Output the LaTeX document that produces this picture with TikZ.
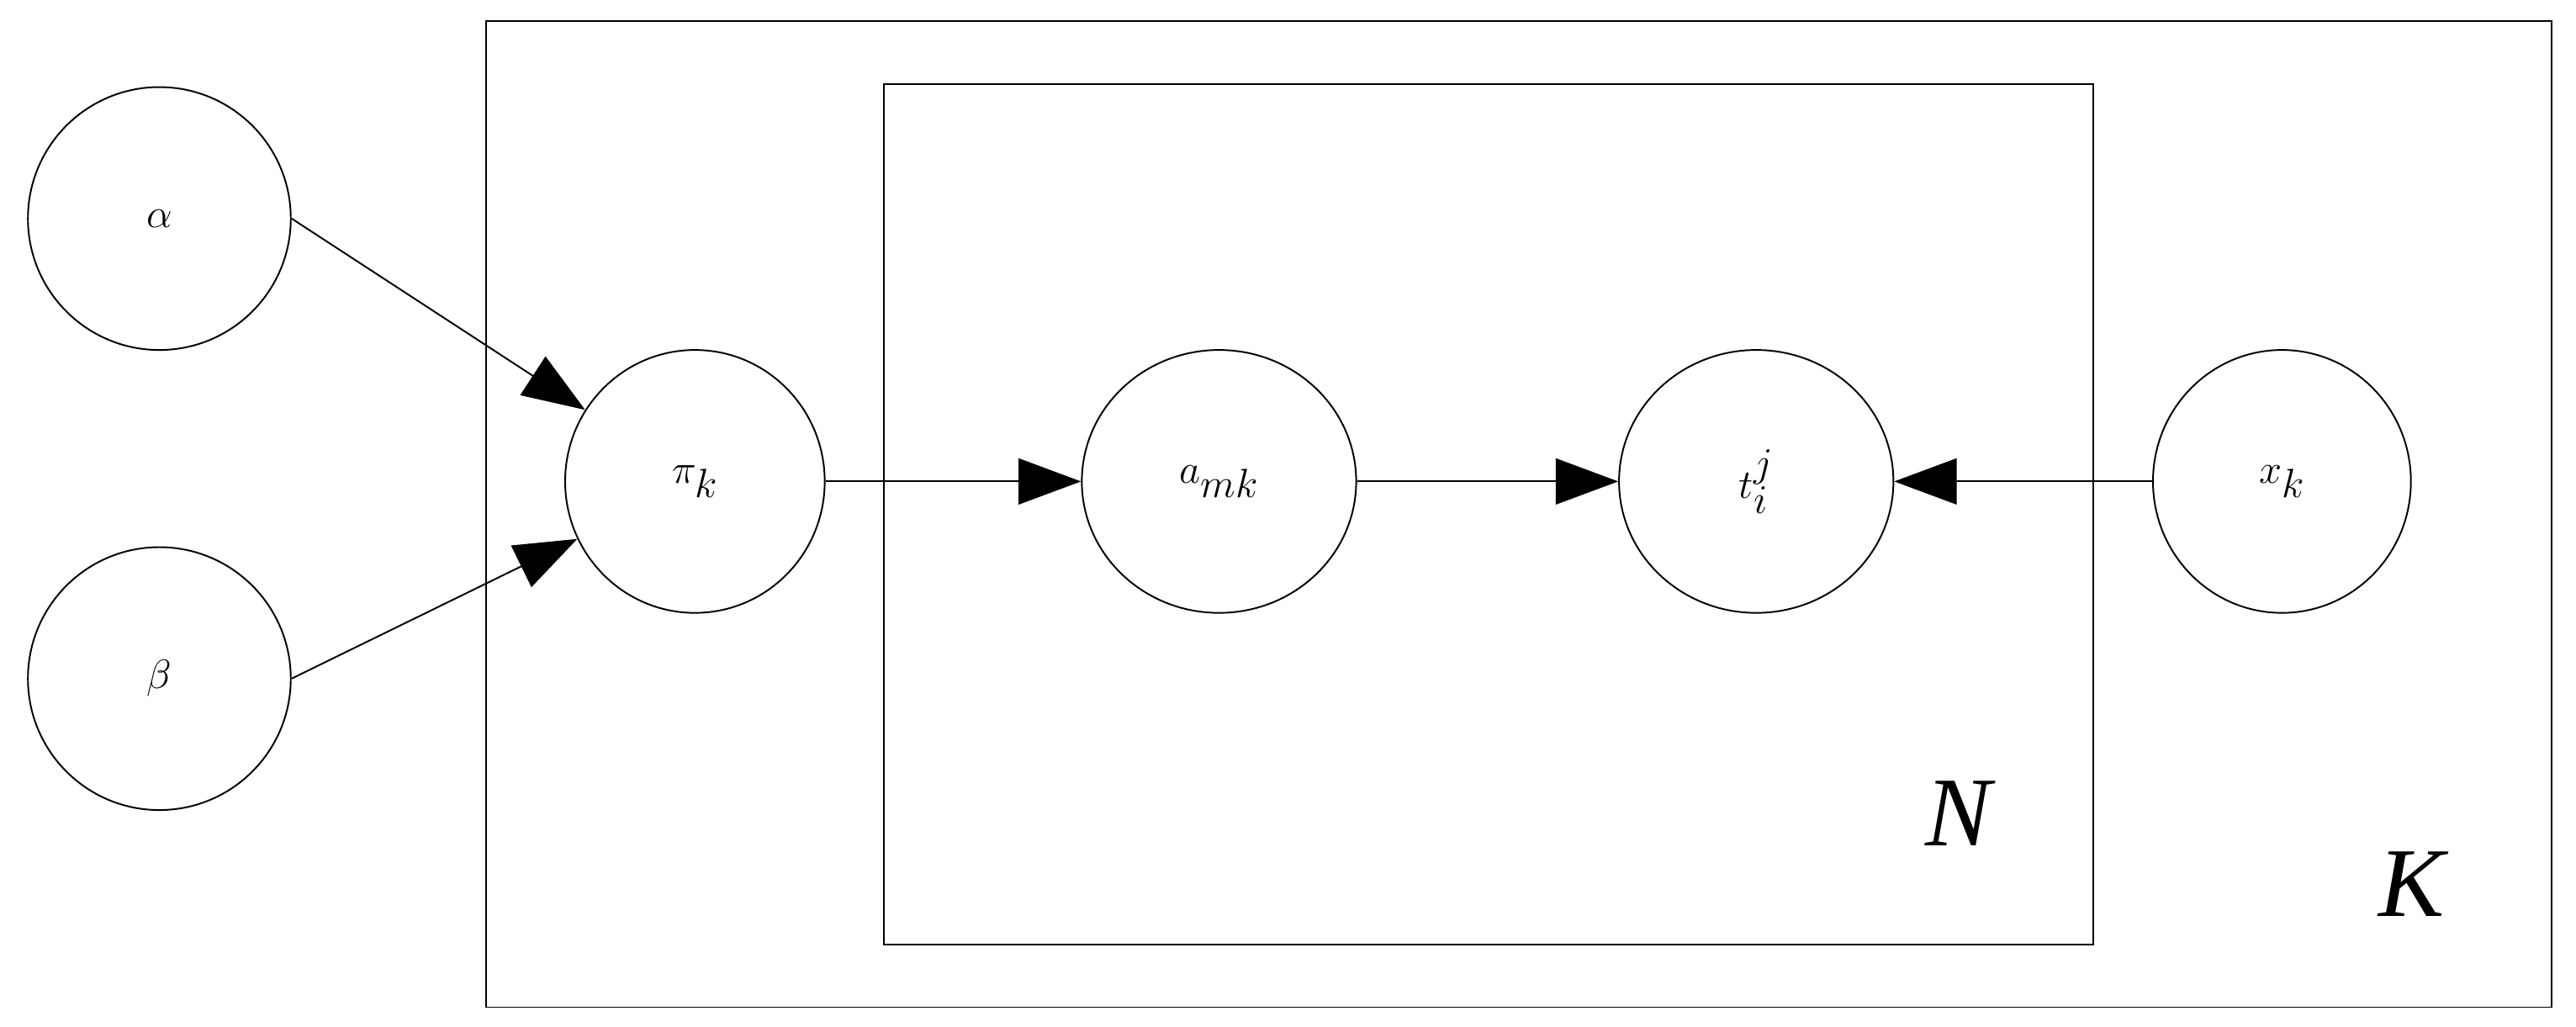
\documentclass[tikz,border=0pt]{standalone}
\usepackage{fontspec}
\setmainfont{Liberation Serif}
\usetikzlibrary{arrows.meta,shapes.geometric}
\begin{document}
\begin{tikzpicture}[x=1pt,y=-1pt,
  var/.style={draw,line width=1pt,ellipse,minimum width=#1,minimum height=160pt,inner sep=0pt,font=\fontsize{60}{66}\selectfont},
  var/.default=160pt,
  plate/.style={draw,line width=1pt},
  arr/.style={line width=1pt,-{Triangle[length=38pt,width=28pt]}},
  lab/.style={font=\fontsize{60}{66}\selectfont\itshape}]
\useasboundingbox (0,0) rectangle (1568,625);
\draw[plate] (296,13) rectangle (1553,613);
\draw[plate] (538,51) rectangle (1274,575);
\node[var] (alpha) at (97,133) {$\alpha$};
\node[var] (beta) at (97,413) {$\beta$};
\node[var=158pt] (pi) at (423,293) {$\pi_k$};
\node[var=167pt] (a) at (742,293) {$a_{mk}$};
\node[var=167pt] (t) at (1069,293) {$t_i^j$};
\node[var=157pt] (x) at (1389,293) {$x_k$};
\node[lab] (N) at (1192,495) {N};
\node[lab] (K) at (1468,538) {K};
\draw[arr] (alpha.east) -- (pi);
\draw[arr] (beta.east) -- (pi);
\draw[arr] (pi) -- (a);
\draw[arr] (a) -- (t);
\draw[arr] (x) -- (t);
\end{tikzpicture}
\end{document}
